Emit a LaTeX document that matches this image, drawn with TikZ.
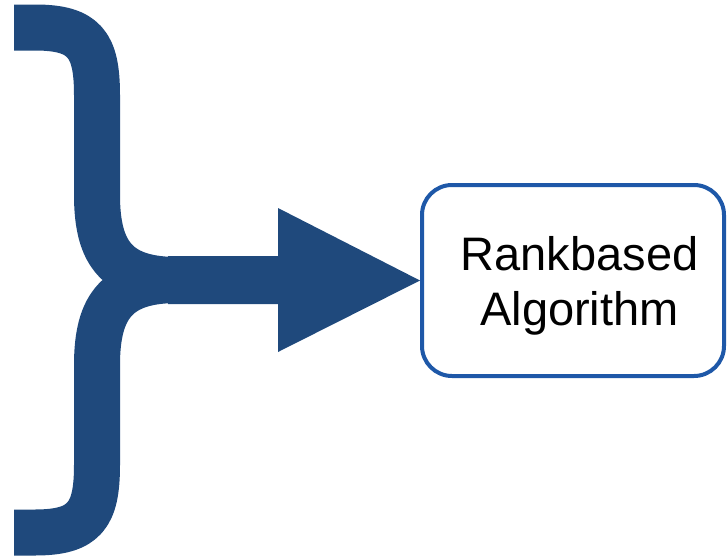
\documentclass[tikz,border=0pt]{standalone}
\usepackage{fontspec}
\setmainfont{Liberation Sans}
\definecolor{bracecol}{RGB}{31,73,124}
\definecolor{boxcol}{RGB}{30,88,168}
\tikzset{
  bracestroke/.style={draw=bracecol, line width=46pt, line cap=butt, line join=round},
  algobox/.style={draw=boxcol, line width=4pt, rounded corners=30pt, fill=white,
    minimum width=302pt, minimum height=191pt, inner sep=0pt},
  algotext/.style={align=center, inner sep=0pt,
    font=\fontsize{47pt}{55pt}\selectfont},
}
\begin{document}
\begin{tikzpicture}[x=1pt, y=-1pt]
  \useasboundingbox (0,0) rectangle (728,557);
  % target box and its caption
  \node[algobox] (algo) at (573,280.5) {};
  \node[algotext] (algolabel) at (579.5,286) {Rankbased\\Algorithm};
  % brace: upper and lower halves meeting at the arrow shaft
  \coordinate (join) at (178,280);
  \draw[bracestroke] (14,27.5) -- (35,27.5)
    .. controls (85,27.5) and (97,45) .. (97,95) -- (97,195)
    .. controls (97,255) and (118,280) .. (join);
  \draw[bracestroke] (14,532.5) -- (35,532.5)
    .. controls (85,532.5) and (97,515) .. (97,465) -- (97,365)
    .. controls (97,305) and (118,280) .. (join);
  % block arrow into the box
  \fill[bracecol] (join) ++(-10,-24) -- (278,256) -- (278,208) -- (algo.west)
    -- (278,352) -- (278,304) -- (168,304) -- cycle;
\end{tikzpicture}
\end{document}
